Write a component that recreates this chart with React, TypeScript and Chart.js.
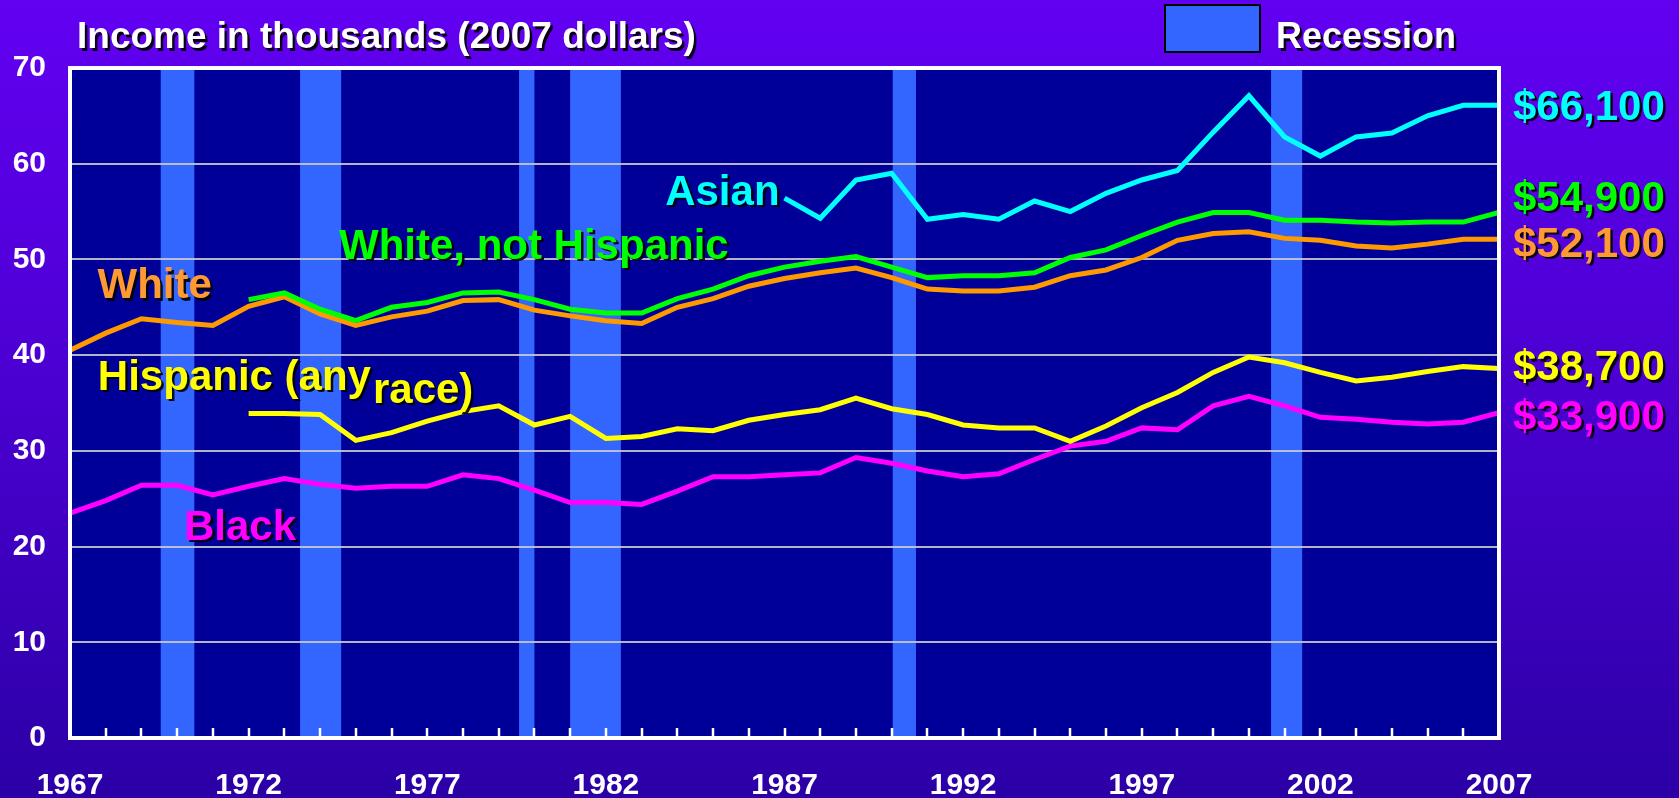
import React, { useEffect, useRef } from "react";
import { Chart, registerables } from "chart.js";

Chart.register(...registerables);

// ---------- data ----------
const years = [
  1967, 1968, 1969, 1970, 1971, 1972, 1973, 1974, 1975, 1976,
  1977, 1978, 1979, 1980, 1981, 1982, 1983, 1984, 1985, 1986,
  1987, 1988, 1989, 1990, 1991, 1992, 1993, 1994, 1995, 1996,
  1997, 1998, 1999, 2000, 2001, 2002, 2003, 2004, 2005, 2006, 2007,
];

const asian = [
  null, null, null, null, null, null, null, null, null, null,
  null, null, null, null, null, null, null, null, null, null,
  56.4, 54.3, 58.3, 59.0, 54.2, 54.7, 54.2, 56.1, 55.0, 56.9,
  58.3, 59.3, 63.3, 67.1, 62.8, 60.8, 62.8, 63.2, 65.0, 66.1, 66.1,
];

const whiteNotHispanic = [
  null, null, null, null, null, 45.8, 46.5, 44.8, 43.6, 45.0,
  45.5, 46.5, 46.6, 45.8, 44.8, 44.4, 44.4, 45.9, 46.9, 48.3,
  49.2, 49.8, 50.3, 49.2, 48.1, 48.3, 48.3, 48.6, 50.2, 51.0,
  52.5, 53.9, 54.9, 54.9, 54.1, 54.1, 53.9, 53.8, 53.9, 53.9, 54.9,
];

const white = [
  40.5, 42.3, 43.8, 43.4, 43.1, 45.1, 46.1, 44.3, 43.1, 44.0,
  44.6, 45.7, 45.8, 44.7, 44.1, 43.6, 43.3, 45.0, 45.9, 47.2,
  48.0, 48.6, 49.1, 48.1, 46.9, 46.7, 46.7, 47.1, 48.3, 48.9,
  50.2, 52.0, 52.7, 52.9, 52.2, 52.0, 51.4, 51.2, 51.6, 52.1, 52.1,
];

const hispanic = [
  null, null, null, null, null, 33.9, 33.9, 33.8, 31.1, 31.9,
  33.1, 34.1, 34.7, 32.7, 33.6, 31.3, 31.5, 32.3, 32.1, 33.2,
  33.8, 34.3, 35.5, 34.4, 33.8, 32.7, 32.4, 32.4, 31.0, 32.6,
  34.5, 36.1, 38.2, 39.8, 39.2, 38.2, 37.3, 37.7, 38.3, 38.8, 38.6,
];

const black = [
  23.5, 24.8, 26.4, 26.4, 25.4, 26.3, 27.1, 26.5, 26.1, 26.3,
  26.3, 27.5, 27.1, 25.9, 24.6, 24.6, 24.4, 25.8, 27.3, 27.3,
  27.5, 27.7, 29.3, 28.7, 27.9, 27.3, 27.6, 29.1, 30.5, 31.0,
  32.4, 32.2, 34.7, 35.7, 34.7, 33.5, 33.3, 33.0, 32.8, 33.0, 34.0,
];

const xTickYears = [1967, 1972, 1977, 1982, 1987, 1992, 1997, 2002, 2007];
const recessionStarts = [1969.54, 1973.44, 1979.57, 1981.0, 1990.03, 2000.62];
const recessionEnds = [1970.48, 1974.59, 1980.0, 1982.42, 1990.68, 2001.49];
const endValueLabels = ["$66,100", "$54,900", "$52,100", "$38,700", "$33,900"];
const seriesNames = ["Asian", "White, not Hispanic", "White", "Hispanic (any", "Black"];

// ---------- styles / annotation placement ----------
const FONT = "'Liberation Sans', Arial, Helvetica, sans-serif";
const lineColors = ["#00FFFF", "#00FF00", "#FF9900", "#FFFF00", "#FF00FF"];
const textColors = ["#00FFFF", "#00FF00", "#FF9933", "#FFFF00", "#FF00FF"];
// anchors in data units (year, value) for text baselines
const nameAnchors = [
  { year: 1983.66, value: 55.69 },
  { year: 1974.53, value: 50.05 },
  { year: 1967.77, value: 45.94 },
  { year: 1967.78, value: 36.36 },
  { year: 1970.19, value: 20.69 },
];
const endLabelBaselines = [64.57, 55.06, 50.26, 37.4, 32.18];

function shadowText(
  ctx: CanvasRenderingContext2D,
  text: string,
  x: number,
  y: number,
  color: string,
  font: string,
  off = 2.5
) {
  ctx.font = font;
  ctx.textAlign = "left";
  ctx.textBaseline = "alphabetic";
  ctx.fillStyle = "rgba(0,0,0,0.9)";
  ctx.fillText(text, x + off, y + off);
  ctx.fillStyle = color;
  ctx.fillText(text, x, y);
}

const decorPlugin = {
  id: "decor",
  beforeDraw(chart: any) {
    const { ctx, chartArea: a } = chart;
    const xs = chart.scales.x;
    ctx.save();
    ctx.fillStyle = "#000099";
    ctx.fillRect(a.left, a.top, a.right - a.left, a.bottom - a.top);
    ctx.fillStyle = "#3366FF";
    recessionStarts.forEach((s, i) => {
      const x0 = xs.getPixelForValue(s);
      const x1 = xs.getPixelForValue(recessionEnds[i]);
      ctx.fillRect(x0, a.top, x1 - x0, a.bottom - a.top);
    });
    ctx.restore();
  },
  afterDraw(chart: any) {
    const { ctx, chartArea: a } = chart;
    const xs = chart.scales.x;
    const ys = chart.scales.y;
    ctx.save();
    // plot frame
    ctx.strokeStyle = "#FFFFFF";
    ctx.lineWidth = 4;
    ctx.strokeRect(a.left, a.top, a.right - a.left, a.bottom - a.top);
    // yearly tick marks inside the plot
    ctx.lineWidth = 2.5;
    years.forEach((yr) => {
      if (yr === years[0] || yr === years[years.length - 1]) return;
      const px = Math.round(xs.getPixelForValue(yr));
      ctx.beginPath();
      ctx.moveTo(px, a.bottom);
      ctx.lineTo(px, a.bottom - 10);
      ctx.stroke();
    });

    // title
    shadowText(ctx, "Income in thousands (2007 dollars)", 77, 48, "#FFFFFF", `bold 37px ${FONT}`);
    // legend
    ctx.fillStyle = "#3366FF";
    ctx.fillRect(1165, 5, 95, 47);
    ctx.strokeStyle = "#000000";
    ctx.lineWidth = 2;
    ctx.strokeRect(1165, 5, 95, 47);
    shadowText(ctx, "Recession", 1276, 48, "#FFFFFF", `bold 36px ${FONT}`);

    // series names
    const nameFont = `bold 42px ${FONT}`;
    seriesNames.forEach((name, i) => {
      const x = xs.getPixelForValue(nameAnchors[i].year);
      const y = ys.getPixelForValue(nameAnchors[i].value);
      shadowText(ctx, name, x, y, textColors[i], nameFont);
      if (i === 3) {
        ctx.font = nameFont;
        const w = ctx.measureText(name).width;
        shadowText(ctx, "race)", x + w + 2, y + 13, textColors[i], nameFont);
      }
    });

    // end values
    endValueLabels.forEach((lab, i) => {
      const y = ys.getPixelForValue(endLabelBaselines[i]);
      shadowText(ctx, lab, a.right + 14, y, textColors[i], nameFont);
    });
    ctx.restore();
  },
};

export default function App() {
  const ref = useRef<HTMLCanvasElement | null>(null);

  useEffect(() => {
    document.body.style.margin = "0";
    const seriesValues = [asian, whiteNotHispanic, white, hispanic, black];
    const chart = new Chart(ref.current as HTMLCanvasElement, {
      type: "line",
      data: {
        datasets: seriesValues.map((vals, i) => ({
          label: seriesNames[i],
          data: years.map((yr, j) => ({ x: yr, y: vals[j] })),
          borderColor: lineColors[i],
          backgroundColor: lineColors[i],
          borderWidth: 5,
          pointRadius: 0,
          tension: 0,
          spanGaps: false,
          borderJoinStyle: "miter" as const,
          borderCapStyle: "butt" as const,
        })),
      },
      options: {
        animation: false,
        responsive: true,
        maintainAspectRatio: false,
        layout: { padding: { top: 68, right: 180, left: 0, bottom: 0 } },
        plugins: {
          legend: { display: false },
          title: { display: false },
          tooltip: { enabled: false },
        },
        scales: {
          x: {
            type: "linear",
            min: 1967,
            max: 2007,
            afterBuildTicks: (scale: any) => {
              scale.ticks = xTickYears.map((v) => ({ value: v }));
            },
            afterFit: (scale: any) => {
              scale.height = 60;
            },
            grid: { display: false, drawTicks: false },
            border: { display: false },
            ticks: {
              autoSkip: false,
              maxRotation: 0,
              padding: 30,
              color: "#FFFFFF",
              font: { family: FONT, size: 30, weight: "bold" },
              callback: (v: any) => String(v),
            },
          },
          y: {
            min: 0,
            max: 70,
            afterFit: (scale: any) => {
              scale.width = 70;
            },
            grid: { color: "rgba(200,200,205,0.9)", lineWidth: 2, drawTicks: false },
            border: { display: false },
            ticks: {
              stepSize: 10,
              padding: 24,
              color: "#FFFFFF",
              font: { family: FONT, size: 30, weight: "bold" },
            },
          },
        },
      },
      plugins: [decorPlugin],
    });
    return () => chart.destroy();
  }, []);

  return (
    <div
      style={{
        position: "fixed",
        left: 0,
        top: 0,
        width: 1679,
        height: 798,
        background: "linear-gradient(180deg, #6200F2 0%, #4A00D0 50%, #2B00A6 100%)",
      }}
    >
      <canvas ref={ref} />
    </div>
  );
}
